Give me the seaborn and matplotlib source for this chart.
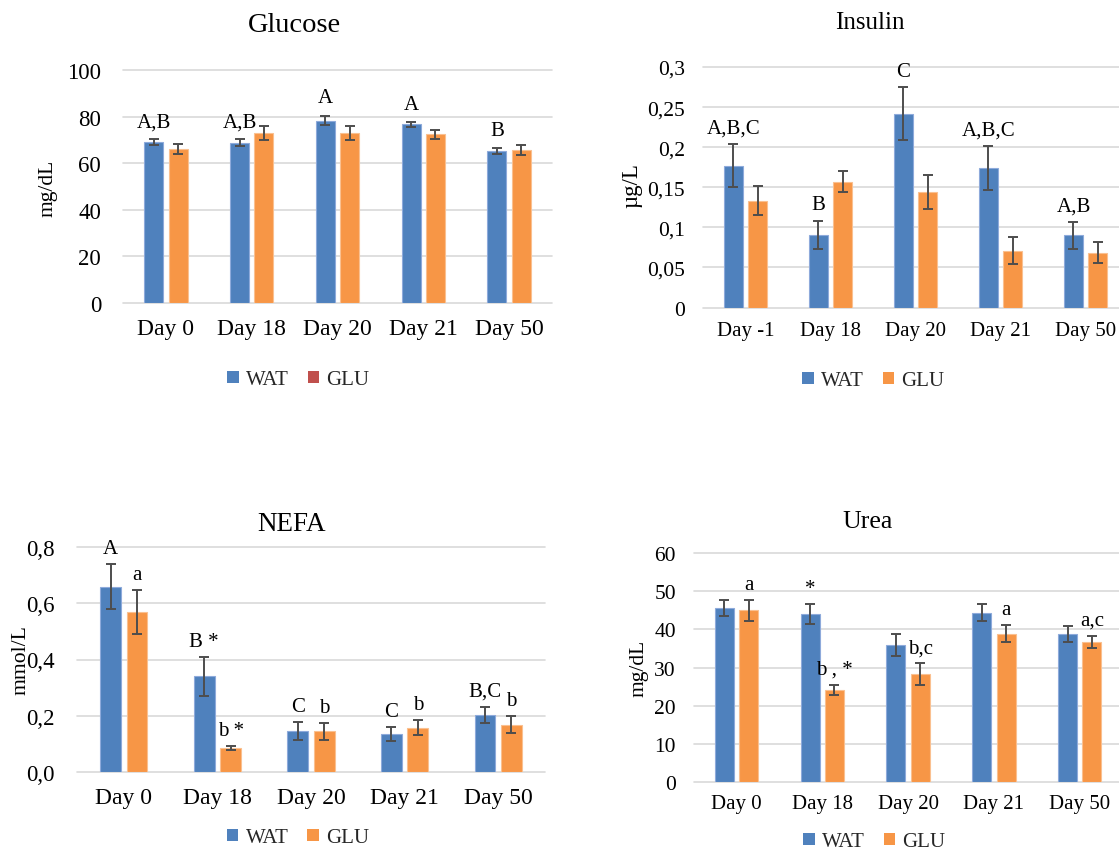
import numpy as np
import pandas as pd
import matplotlib
matplotlib.use("Agg")
import matplotlib.pyplot as plt
from matplotlib.patches import Patch
from matplotlib.container import BarContainer
import seaborn as sns

sns.set_theme(style="white")
plt.rcParams['font.family'] = ['Liberation Serif', 'DejaVu Serif']

# ---------------- data ----------------
groups = ["WAT", "GLU"]
days = ["Day 0", "Day 18", "Day 20", "Day 21", "Day 50"]
days_insulin = ["Day -1", "Day 18", "Day 20", "Day 21", "Day 50"]

glucose_wat = [68.9, 68.8, 78.3, 76.7, 65.2]
glucose_wat_err = [1.3, 1.4, 2.1, 1.1, 1.35]
glucose_glu = [66.1, 73.0, 73.0, 72.4, 65.7]
glucose_glu_err = [2.1, 3.0, 2.9, 2.0, 2.2]
glucose_wat_lbl = ["A,B", "A,B", "A", "A", "B"]
glucose_glu_lbl = ["", "", "", "", ""]
glucose_ticks = [0, 20, 40, 60, 80, 100]
glucose_ticklabels = ["0", "20", "40", "60", "80", "100"]

insulin_wat = [0.177, 0.0905, 0.2415, 0.174, 0.090]
insulin_wat_err = [0.027, 0.0177, 0.033, 0.0275, 0.0167]
insulin_glu = [0.133, 0.157, 0.144, 0.071, 0.0685]
insulin_glu_err = [0.018, 0.013, 0.021, 0.0165, 0.013]
insulin_wat_lbl = ["A,B,C", "B", "C", "A,B,C", "A,B"]
insulin_glu_lbl = ["", "", "", "", ""]
insulin_ticks = [0, 0.05, 0.1, 0.15, 0.2, 0.25, 0.3]
insulin_ticklabels = ["0", "0,05", "0,1", "0,15", "0,2", "0,25", "0,3"]

nefa_wat = [0.660, 0.340, 0.146, 0.134, 0.202]
nefa_wat_err = [0.079, 0.0695, 0.032, 0.0256, 0.030]
nefa_glu = [0.568, 0.083, 0.144, 0.157, 0.168]
nefa_glu_err = [0.078, 0.007, 0.031, 0.027, 0.030]
nefa_wat_lbl = ["A", "B *", "C", "C", "B,C"]
nefa_glu_lbl = ["a", "b *", "b", "b", "b"]
nefa_ticks = [0, 0.2, 0.4, 0.6, 0.8]
nefa_ticklabels = ["0,0", "0,2", "0,4", "0,6", "0,8"]

urea_wat = [45.6, 44.0, 36.0, 44.4, 38.9]
urea_wat_err = [2.1, 2.66, 2.88, 2.27, 2.1]
urea_glu = [45.0, 24.15, 28.25, 38.9, 36.7]
urea_glu_err = [2.8, 1.35, 2.88, 2.2, 1.57]
urea_wat_lbl = ["", "*", "", "", ""]
urea_glu_lbl = ["a", "b , *", "b,c", "a", "a,c"]
urea_ticks = [0, 10, 20, 30, 40, 50, 60]
urea_ticklabels = ["0", "10", "20", "30", "40", "50", "60"]

# ---------------- style ----------------
BLUE = "#4F81BD"
ORANGE = "#F79646"
RED = "#C0504D"
EDGES = ["#8EAADB", "#FAC090"]
ERR = "#4D4D4D"
W, H = 1119, 854

fig = plt.figure(figsize=(W / 100, H / 100), dpi=100)


def px_rect(left, right, top, bottom):
    return [left / W, 1 - bottom / H, (right - left) / W, (bottom - top) / H]


def panel(rect, cats, wat, wat_err, glu, glu_err, wat_lbl, glu_lbl, ticks, ticklabels,
          title, title_px, title_fs, ylabel, ylabel_px, ylabel_fs,
          xfs, yfs, xpad, ypad, legend_px, legend_colors, ann_off):
    ax = fig.add_axes(rect)
    df = pd.DataFrame({
        "Day": list(cats) * 2,
        "Group": [groups[0]] * len(cats) + [groups[1]] * len(cats),
        "Value": list(wat) + list(glu),
    })
    sns.barplot(data=df, x="Day", y="Value", hue="Group", order=cats, hue_order=groups,
                palette=[BLUE, ORANGE], saturation=1, width=0.565, gap=0.215,
                errorbar=None, legend=False, ax=ax, zorder=2)
    errs = [wat_err, glu_err]
    lbls = [wat_lbl, glu_lbl]
    bar_conts = [c for c in ax.containers if isinstance(c, BarContainer)]
    for ci, cont in enumerate(bar_conts):
        for bar in list(cont.patches):
            if bar is None:
                continue
            x = bar.get_x() + bar.get_width() / 2
            k = int(round(x))
            h = bar.get_height()
            e = errs[ci][k]
            bar.set_edgecolor(EDGES[ci])
            bar.set_linewidth(0.8)
            ax.errorbar(x, h, yerr=e, fmt="none", ecolor=ERR, elinewidth=1.4,
                        capsize=3.6, capthick=1.4, zorder=4)
            if lbls[ci][k]:
                ax.annotate(lbls[ci][k], (x, h + e), xytext=(0, ann_off),
                            textcoords="offset points", ha="center", va="baseline",
                            fontsize=15, color="black", annotation_clip=False)
    ax.set_xlim(-0.5, len(cats) - 0.5)
    ax.set_ylim(ticks[0], ticks[-1])
    ax.set_yticks(ticks, ticklabels)
    ax.set_xlabel("")
    ax.set_ylabel("")
    ax.grid(axis="y", color="#D9D9D9", lw=1.2)
    ax.grid(axis="x", visible=False)
    ax.set_axisbelow(True)
    for gl in ax.get_ygridlines():
        gl.set_clip_on(False)
    for s in ax.spines.values():
        s.set_visible(False)
    ax.tick_params(axis="x", length=0, pad=xpad, labelsize=xfs, labelcolor="black")
    ax.tick_params(axis="y", length=0, pad=ypad, labelsize=yfs, labelcolor="black")
    ax.set_facecolor("none")

    fig.text(title_px[0] / W, 1 - title_px[1] / H, title, ha="center", va="baseline",
             fontsize=title_fs, color="black")
    fig.text(ylabel_px[0] / W, 1 - ylabel_px[1] / H, ylabel, rotation=90,
             ha="center", va="center", fontsize=ylabel_fs, color="black")
    handles = [Patch(facecolor=c, edgecolor="none") for c in legend_colors]
    fig.legend(handles, groups, loc="center",
               bbox_to_anchor=(legend_px[0] / W, 1 - legend_px[1] / H),
               ncol=2, frameon=False, fontsize=15, handlelength=0.55,
               handleheight=0.55, handletextpad=0.35, columnspacing=0.9,
               borderpad=0, borderaxespad=0)
    return ax


panel(px_rect(123, 552, 71, 304), days, glucose_wat, glucose_wat_err, glucose_glu,
      glucose_glu_err, glucose_wat_lbl, glucose_glu_lbl, glucose_ticks, glucose_ticklabels,
      "Glucose", (294, 31.7), 20.5, "mg/dL", (48, 188), 15.5,
      17, 16.5, 10.5, 15.8, (298.5, 381), [BLUE, RED], 9.5)

panel(px_rect(703, 1128, 68, 308.5), days_insulin, insulin_wat, insulin_wat_err,
      insulin_glu, insulin_glu_err, insulin_wat_lbl, insulin_glu_lbl, insulin_ticks,
      insulin_ticklabels, "Insulin", (870, 29.3), 18, "\u00b5g/L", (632, 186), 16.5,
      15, 15.5, 10, 13, (873.5, 381.7), [BLUE, ORANGE], 8.5)

panel(px_rect(77, 545, 548.3, 772.7), days, nefa_wat, nefa_wat_err, nefa_glu,
      nefa_glu_err, nefa_wat_lbl, nefa_glu_lbl, nefa_ticks, nefa_ticklabels,
      "NEFA", (292, 530.7), 19.5, "mmol/L", (21, 660), 15.6,
      17, 16.5, 11, 16, (298, 839), [BLUE, ORANGE], 8)

panel(px_rect(693.6, 1122.6, 554, 783.3), days, urea_wat, urea_wat_err, urea_glu,
      urea_glu_err, urea_wat_lbl, urea_glu_lbl, urea_ticks, urea_ticklabels,
      "Urea", (868, 528.3), 18.5, "mg/dL", (638.5, 668), 15.4,
      15, 15.5, 8.6, 12.7, (874.5, 843), [BLUE, ORANGE], 8)

fig.savefig("out.png", dpi=100, facecolor="white")
